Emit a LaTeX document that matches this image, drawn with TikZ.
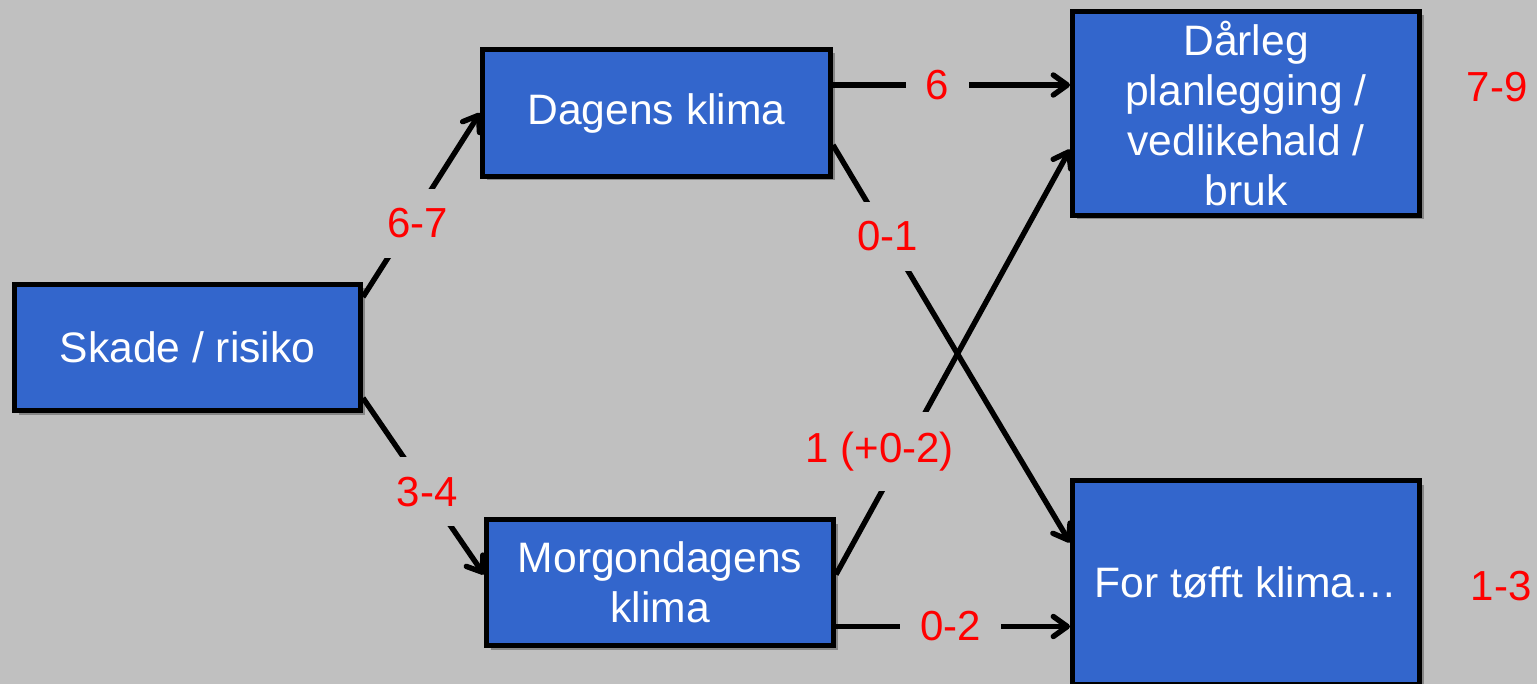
\documentclass[tikz,border=0pt]{standalone}
\usepackage{fontspec}
\setmainfont{Liberation Sans}
\usetikzlibrary{arrows.meta,shadows,calc}
\definecolor{bg}{HTML}{C0C0C0}
\definecolor{boxblue}{HTML}{3366CC}
\definecolor{lblred}{HTML}{FF0000}
\begin{document}
\begin{tikzpicture}[x=0.5pt,y=-0.5pt,
  box/.style={draw=black, line width=2.5pt, fill=boxblue, text=white, align=center,
    font=\fontsize{21.3}{25}\selectfont, inner sep=0pt,
    drop shadow={shadow xshift=2pt, shadow yshift=-2pt, opacity=0.3, fill=black}},
  conn/.style={line width=2.7pt, -{Straight Barb[round,length=7pt,width=10pt]}},
  lbl/.style={fill=bg, text=lblred, font=\fontsize{21}{24}\selectfont, inner xsep=10pt, inner ysep=10pt},
  side/.style={text=lblred, font=\fontsize{21}{24}\selectfont, inner sep=0pt}]
\fill[bg] (0,0) rectangle (1537,684);
\useasboundingbox (0,0) rectangle (1537,684);

\node[box, minimum width=173pt, minimum height=63pt] (skade) at (187.5,347.5) {Skade / risiko};
\node[box, minimum width=174pt, minimum height=63.5pt] (dagens) at (656.5,113) {\raisebox{-2pt}{Dagens klima}};
\node[box, minimum width=173.5pt, minimum height=63pt] (morg) at (660,582.5) {Morgondagens\\klima};
\node[box, minimum width=173.5pt, minimum height=102pt] (darleg) at (1246,113.5) {Dårleg\\planlegging /\\vedlikehald /\\bruk};
\node[box, minimum width=173.5pt, minimum height=102pt] (toff) at (1246,582.5) {For tøfft klima…};

\node[side] (r79) at (1497,87) {7-9};
\node[side] (r13) at (1501,586) {1-3};

\draw[conn] ([yshift=-7.5pt]skade.north east) -- node[lbl, pos=0.4, xshift=4pt] (l67) {6-7} (dagens.west);
\draw[conn] ([yshift=7.5pt]skade.south east) -- node[lbl, pos=0.53] (l34) {3-4} ([yshift=4pt]morg.west);
\draw[conn] ([yshift=14pt]dagens.east) -- node[lbl, pos=0.44] (l6) {6} ([yshift=14pt]dagens.east -| darleg.west);
\draw[conn] ([yshift=-16pt]dagens.east) -- node[lbl, pos=0.23] (l01) {0-1} ([yshift=20pt]toff.west);
\draw[conn] ([yshift=4pt]morg.east) -- node[lbl, pos=0.29, xshift=-12pt] (l102) {1 (+0-2)} ([yshift=-18pt]darleg.west);
\draw[conn] ([yshift=-22pt]morg.east) -- node[lbl, pos=0.49] (l02) {0-2} ([yshift=-22pt]morg.east -| toff.west);
\end{tikzpicture}
\end{document}
